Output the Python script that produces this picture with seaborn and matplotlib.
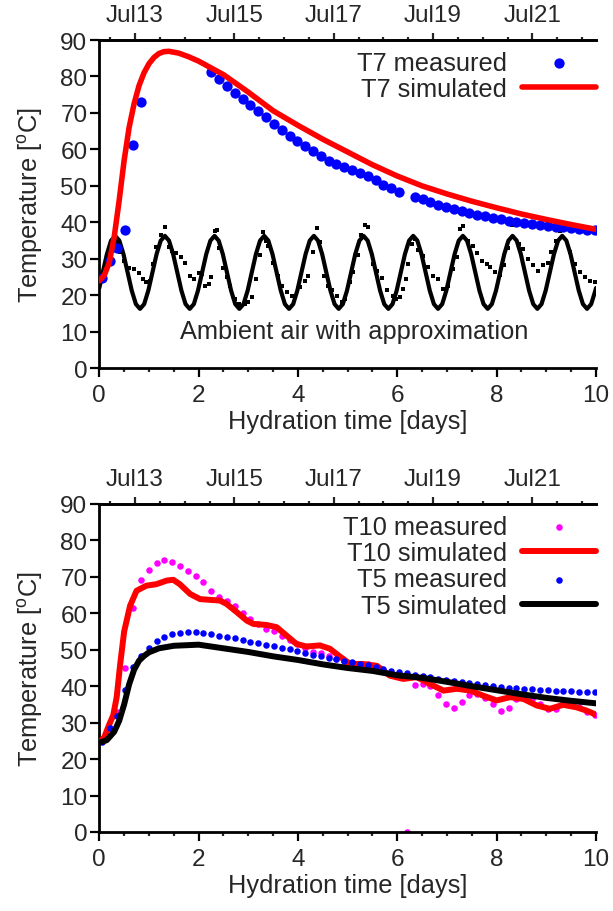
import matplotlib
matplotlib.use('Agg')
import matplotlib.pyplot as plt
from matplotlib.ticker import FixedLocator, MultipleLocator
import seaborn as sns
import numpy as np
import pandas as pd

# common logger time grid (days of hydration), one reading every ~3.8 h
MEAS_DAYS = np.round(0.05 + 0.1575 * np.arange(64), 3)

# --- top panel ---
T7_MEAS = [24.8, 29.5, 33.0, 38.0, 61.3, 73.1,
           np.nan, np.nan, np.nan, np.nan, np.nan, np.nan, np.nan, np.nan,
           81.1, 79.4, 77.5, 75.6, 73.9, 72.3, 70.6, 68.8, 66.9, 65.2,
           63.8, 62.4, 61.0, 59.6, 58.2, 56.9, 56.0, 55.2, 54.3, 53.5,
           52.8, 51.5, 50.3, 49.3, 48.4,
           np.nan,
           46.9, 46.3, 45.6, 44.9, 44.3, 43.7, 43.2, 42.6, 42.1, 41.7,
           41.3, 40.9, 40.5, 40.1, 39.8, 39.5, 39.2, 39.0, 38.8, 38.6,
           38.4, 38.2, 38.0, 37.8]

T7_SIM_DAYS = [0, 0.1, 0.2, 0.3, 0.4, 0.5, 0.6, 0.7, 0.8, 0.9, 1.0, 1.1, 1.2,
               1.3, 1.4, 1.6, 1.8, 2.0, 2.5, 3.0, 3.5, 4.0, 4.5, 5.0, 5.5, 6.0,
               6.5, 7.0, 7.5, 8.0, 8.5, 9.0, 9.5, 10.0]
T7_SIM = [24.0, 25.5, 29.0, 36.0, 46.0, 57.0, 66.0, 72.5, 77.5, 81.0, 83.5,
          85.2, 86.3, 86.8, 86.9, 86.4, 85.4, 84.2, 80.5, 75.7, 70.6, 66.6,
          62.8, 59.3, 55.8, 52.7, 50.0, 47.8, 45.8, 44.0, 42.3, 40.8, 39.4, 38.1]

AIR_DAYS = [0.05, 0.12, 0.2, 0.28, 0.35, 0.42, 0.5, 0.6, 0.7, 0.8, 0.88, 0.95,
            1.02, 1.09, 1.15, 1.25, 1.32, 1.4, 1.47, 1.55, 1.64, 1.73, 1.83,
            1.91, 2.0, 2.07, 2.13, 2.2, 2.25, 2.32, 2.36, 2.41, 2.5, 2.57,
            2.63, 2.73, 2.82, 2.93, 3.0, 3.07, 3.16, 3.24, 3.3, 3.36, 3.4,
            3.5, 3.59, 3.67, 3.77, 3.87, 3.94, 4.04, 4.14, 4.21, 4.31, 4.38,
            4.44, 4.53, 4.61, 4.68, 4.78, 4.88, 4.95, 5.05, 5.11, 5.2, 5.27,
            5.34, 5.4, 5.52, 5.6, 5.7, 5.8, 5.91, 5.98, 6.05, 6.12, 6.17,
            6.22, 6.3, 6.35, 6.42, 6.52, 6.62, 6.72, 6.82, 6.92, 7.02, 7.12,
            7.2, 7.26, 7.32, 7.43, 7.53, 7.6, 7.7, 7.8, 7.87, 7.97, 8.07,
            8.14, 8.22, 8.3, 8.36, 8.45, 8.54, 8.64, 8.74, 8.84, 8.94, 9.04,
            9.1, 9.2, 9.27, 9.37, 9.47, 9.57, 9.67, 9.78, 9.88, 9.98]
AIR_MEAS = [24.0, 27.0, 30.0, 34.0, 34.5, 32.0, 29.5, 27.5, 27.3, 26.0, 24.4,
            23.6, 24.0, 28.6, 33.2, 36.5, 38.6, 33.2, 32.2, 31.5, 30.6, 29.0,
            25.4, 24.4, 26.0, 25.8, 22.6, 23.0, 24.9, 37.7, 37.9, 33.0, 27.6,
            25.0, 22.6, 19.0, 17.5, 17.6, 18.2, 19.6, 24.4, 31.0, 37.3, 35.0,
            33.6, 29.0, 25.4, 22.6, 21.0, 19.9, 19.5, 22.2, 23.8, 25.4, 31.8,
            38.5, 34.5, 25.4, 22.6, 21.5, 19.9, 18.1, 19.0, 23.6, 26.3, 31.0,
            36.5, 39.3, 38.8, 28.7, 26.8, 24.8, 21.5, 19.9, 19.0, 19.5, 21.7,
            24.4, 28.6, 34.0, 35.5, 32.3, 30.8, 27.8, 25.4, 24.5, 21.7, 22.6,
            27.2, 30.4, 38.2, 39.1, 35.0, 33.5, 31.7, 29.5, 28.6, 27.7, 26.3,
            25.7, 28.4, 33.0, 39.2, 39.4, 34.2, 32.7, 30.0, 28.2, 26.7, 28.2,
            29.0, 32.0, 35.0, 37.7, 38.1, 31.8, 28.6, 26.3, 24.9, 24.0, 23.6]

# sine approximation of ambient air, read every 2 h (12 per day)
AIR_FIT_DAYS = np.concatenate([[0.0], np.round(0.07 + np.arange(120) / 12, 4), [10.0]])
AIR_FIT = [22.0,
           26.3, 31.3, 35.0, 36.3, 35.0, 31.3, 26.3, 21.3, 17.6, 16.3, 17.6, 21.3,
           26.3, 31.3, 35.0, 36.3, 35.0, 31.3, 26.3, 21.3, 17.6, 16.3, 17.6, 21.3,
           26.3, 31.3, 35.0, 36.3, 35.0, 31.3, 26.3, 21.3, 17.6, 16.3, 17.6, 21.3,
           26.3, 31.3, 35.0, 36.3, 35.0, 31.3, 26.3, 21.3, 17.6, 16.3, 17.6, 21.3,
           26.3, 31.3, 35.0, 36.3, 35.0, 31.3, 26.3, 21.3, 17.6, 16.3, 17.6, 21.3,
           26.3, 31.3, 35.0, 36.3, 35.0, 31.3, 26.3, 21.3, 17.6, 16.3, 17.6, 21.3,
           26.3, 31.3, 35.0, 36.3, 35.0, 31.3, 26.3, 21.3, 17.6, 16.3, 17.6, 21.3,
           26.3, 31.3, 35.0, 36.3, 35.0, 31.3, 26.3, 21.3, 17.6, 16.3, 17.6, 21.3,
           26.3, 31.3, 35.0, 36.3, 35.0, 31.3, 26.3, 21.3, 17.6, 16.3, 17.6, 21.3,
           26.3, 31.3, 35.0, 36.3, 35.0, 31.3, 26.3, 21.3, 17.6, 16.3, 17.6, 21.3,
           22.0]

# --- bottom panel ---
T10_MEAS = [25.0, 28.5, 33.0, 45.0, 61.6, 69.1, 71.9, 73.8, 74.5, 74.2, 73.1,
            71.7, 70.2, 68.7, 66.2, 64.6, 63.5, 62.1, 60.0, 58.5, 57.0, 55.7,
            55.2, 53.9, 52.8, 51.6, 50.4, 49.5, 49.1, 48.4, 47.6, 47.0, 46.5,
            46.2, 46.0, 45.5, 44.5, 43.5, 42.5, 0.0, 40.3, 40.6, 40.0, 37.6,
            35.1, 34.0, 35.6, 37.7, 38.0, 36.7, 35.1, 33.3, 34.1, 36.4, 37.5,
            36.5, 35.0, 33.8, 33.8, 35.5, 35.5, 34.2, 32.8, 32.1]
T5_MEAS = [24.8, 28.5, 31.9, 39.0, 45.2, 48.2, 50.5, 52.3, 53.5, 54.2, 54.6,
           54.8, 54.8, 54.6, 54.3, 53.9, 53.6, 53.2, 52.7, 52.2, 51.8, 51.4,
           51.0, 50.5, 50.1, 49.6, 49.2, 48.7, 48.3, 47.8, 47.4, 47.0, 46.6,
           46.2, 45.8, 45.3, 44.8, 44.3, 44.0, 43.6, 43.2, 42.8, 42.4, 42.1,
           41.8, 41.5, 41.2, 41.0, 40.7, 40.4, 40.1, 39.8, 39.5, 39.4, 39.3,
           39.2, 39.0, 38.9, 38.8, 38.7, 38.6, 38.5, 38.4, 38.3]

T10_SIM_DAYS = [0, 0.1, 0.2, 0.28, 0.35, 0.42, 0.5, 0.62, 0.75, 0.95, 1.15,
                1.36, 1.49, 1.62, 1.83, 2.03, 2.23, 2.43, 2.56, 2.77, 2.97,
                3.1, 3.37, 3.57, 3.77, 3.97, 4.17, 4.44, 4.64, 4.84, 5.05,
                5.32, 5.59, 5.85, 6.12, 6.39, 6.66, 6.93, 7.2, 7.47, 7.73,
                8.0, 8.27, 8.54, 8.81, 9.07, 9.34, 9.61, 9.81, 10.0]
T10_SIM = [24.5, 26.0, 29.5, 32.0, 37.0, 46.0, 55.0, 62.1, 66.2, 67.6, 68.0,
           69.0, 69.2, 68.0, 65.3, 63.9, 63.7, 63.5, 62.6, 60.3, 58.0, 57.1,
           56.8, 56.2, 53.9, 51.6, 50.9, 51.2, 50.3, 48.2, 46.1, 46.1, 45.6,
           42.9, 42.0, 42.5, 40.6, 38.8, 39.3, 38.8, 37.4, 36.1, 37.0, 36.5,
           34.7, 33.8, 34.9, 34.2, 33.3, 32.2]

T5_SIM_DAYS = [0, 0.15, 0.3, 0.4, 0.5, 0.6, 0.7, 0.8, 0.9, 1.0, 1.2, 1.5, 2.0,
               2.5, 3.0, 3.5, 4.0, 4.5, 5.0, 5.5, 6.0, 6.5, 7.0, 7.5, 8.0,
               8.5, 9.0, 9.5, 10.0]
T5_SIM = [24.5, 25.2, 27.5, 30.5, 35.0, 40.5, 44.5, 47.0, 48.3, 49.3, 50.4,
          51.1, 51.4, 50.4, 49.4, 48.2, 47.2, 46.0, 45.0, 44.2, 43.0, 42.3,
          41.2, 40.0, 38.9, 37.8, 36.8, 36.0, 35.3]

# calendar axis on top
DATE_TICK_DAYS = [0.72, 2.72, 4.72, 6.72, 8.72]
DATE_TICK_LABELS = ['Jul13', 'Jul15', 'Jul17', 'Jul19', 'Jul21']

sns.set_style('ticks')
plt.rcParams['font.family'] = ['Liberation Sans', 'DejaVu Sans']
plt.rcParams['mathtext.default'] = 'regular'

TICK_FS = 17.5
TEXT_FS = 18.3


def style_axes(ax):
    ax.set_xlim(0, 10)
    ax.set_ylim(0, 90)
    ax.set_xticks(range(0, 11, 2))
    ax.xaxis.set_minor_locator(MultipleLocator(0.5))
    ax.set_yticks(range(0, 91, 10))
    ax.spines['right'].set_visible(False)
    for s in ['left', 'bottom', 'top']:
        ax.spines[s].set_linewidth(2.0)
        ax.spines[s].set_color('black')
    ax.tick_params(axis='both', which='major', direction='out', length=6.5,
                   width=1.6, labelsize=TICK_FS, color='black')
    ax.tick_params(axis='x', which='major', pad=5)
    ax.tick_params(axis='y', which='major', pad=2)
    ax.tick_params(axis='x', which='minor', direction='out', length=2.6, width=1.6)
    ax.tick_params(top=False, right=False)
    ax.set_xlabel('Hydration time [days]', fontsize=TEXT_FS, labelpad=2)
    ax.set_ylabel('Temperature [$^o$C]', fontsize=TEXT_FS, labelpad=11)

    top = ax.secondary_xaxis('top')
    top.set_xticks(DATE_TICK_DAYS, DATE_TICK_LABELS)
    top.xaxis.set_minor_locator(FixedLocator(np.arange(0.22, 10, 0.5)))
    top.spines['top'].set_linewidth(2.0)
    top.tick_params(which='major', direction='out', length=5, width=1.6,
                    labelsize=TICK_FS, pad=5)
    top.tick_params(which='minor', direction='out', length=2.4, width=1.6)


def draw_legend(ax):
    handles, labels = ax.get_legend_handles_labels()
    keep = [(h, l) for h, l in zip(handles, labels) if not l.startswith('_')]
    ax.legend([h for h, _ in keep], [l for _, l in keep], loc='upper right',
              bbox_to_anchor=(1.021, 1.0), frameon=False, markerfirst=False,
              handlelength=2.9, handletextpad=0.6, borderaxespad=0,
              borderpad=0.42, labelspacing=0.09, fontsize=TEXT_FS)


fig = plt.figure(figsize=(6.13, 9.12), dpi=100)
ax1 = fig.add_axes([99.3 / 613, 1 - 369.3 / 912, 496.7 / 613, 328.3 / 912])
ax2 = fig.add_axes([99.3 / 613, 1 - 833 / 912, 496.7 / 613, 328 / 912])

top_meas = pd.DataFrame({'days': MEAS_DAYS, 'T7': T7_MEAS})
air = pd.DataFrame({'days': AIR_DAYS, 'temp': AIR_MEAS})
air_fit = pd.DataFrame({'days': AIR_FIT_DAYS, 'temp': AIR_FIT})
t7_sim = pd.DataFrame({'days': T7_SIM_DAYS, 'temp': T7_SIM})

sns.scatterplot(data=air, x='days', y='temp', marker='s', s=10, color='black',
                linewidth=0, ax=ax1, zorder=2, legend=False)
sns.lineplot(data=air_fit, x='days', y='temp', color='black', lw=3,
             estimator=None, sort=False, ax=ax1, zorder=3, legend=False)
sns.scatterplot(data=top_meas, x='days', y='T7', color='#0000ff', s=55,
                linewidth=0, ax=ax1, zorder=4, label='T7 measured')
sns.lineplot(data=t7_sim, x='days', y='temp', color='#ff0000', lw=4,
             estimator=None, sort=False, ax=ax1, zorder=5, label='T7 simulated')
ax1.text(5.13, 10.3, 'Ambient air with approximation', ha='center', va='center',
         fontsize=TEXT_FS)
style_axes(ax1)
draw_legend(ax1)

bot_meas = pd.DataFrame({'days': MEAS_DAYS, 'T10': T10_MEAS, 'T5': T5_MEAS})
t10_sim = pd.DataFrame({'days': T10_SIM_DAYS, 'temp': T10_SIM})
t5_sim = pd.DataFrame({'days': T5_SIM_DAYS, 'temp': T5_SIM})

sns.scatterplot(data=bot_meas, x='days', y='T10', color='#ff00ff', s=22,
                linewidth=0, ax=ax2, zorder=2, label='T10 measured')
sns.lineplot(data=t10_sim, x='days', y='temp', color='#ff0000', lw=4.3,
             estimator=None, sort=False, ax=ax2, zorder=3, label='T10 simulated')
sns.scatterplot(data=bot_meas, x='days', y='T5', color='#0000ff', s=22,
                linewidth=0, ax=ax2, zorder=4, label='T5 measured')
sns.lineplot(data=t5_sim, x='days', y='temp', color='black', lw=4.3,
             estimator=None, sort=False, ax=ax2, zorder=5, label='T5 simulated')
style_axes(ax2)
draw_legend(ax2)

fig.savefig('out.png', dpi=100)
